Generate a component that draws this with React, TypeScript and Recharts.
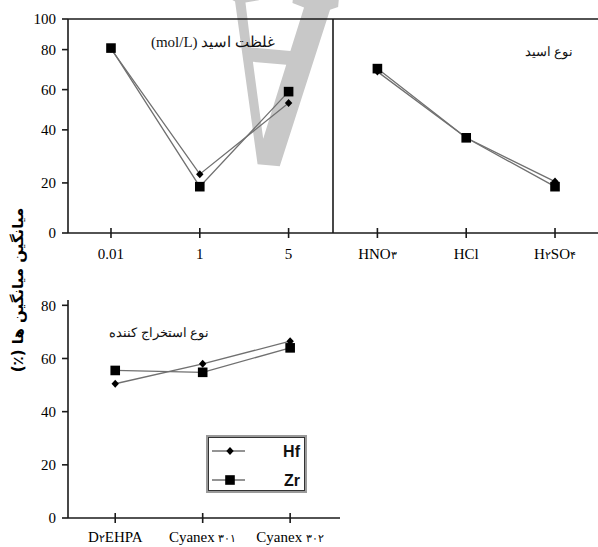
import React from 'react';
import { LineChart, Line, XAxis, YAxis, ReferenceLine, Legend } from 'recharts';

// upper panel: acid concentration (left block) and acid type (right block)
const concLabels = ['0.01', '1', '5'];
const acidLabels = ['HNO۳', 'HCl', 'H۲SO۴'];
const hfConc = [80.5, 23.3, 53.3];
const zrConc = [81, 18.5, 59];
const hfAcid = [69, 37, 20.5];
const zrAcid = [70.5, 37, 18.5];

// lower panel: extractant type
const extractantLabels = ['D۲EHPA', 'Cyanex ۳۰۱', 'Cyanex ۳۰۲'];
const hfExtractant = [50.5, 58, 66.5];
const zrExtractant = [55.5, 54.8, 64];

const topTicks = [0, 20, 40, 60, 80, 100];
// the printed upper axis is not evenly spaced: share of the axis length at each tick
const topTickShare = [0, 0.234, 0.482, 0.67, 0.857, 1];
const bottomTicks = [0, 20, 40, 60, 80];

const series = [
  { key: 'hf', name: 'Hf' },
  { key: 'zr', name: 'Zr' },
];

const SERIF = '"Times New Roman", "Liberation Serif", Times, serif';
const INK = '#1a1a1a';
const LINE = '#707070';

// piecewise-linear scale following the uneven tick spacing, shaped like a d3 scale
function unevenScale(stops: number[], shares: number[]) {
  let domain = [stops[0], stops[stops.length - 1]];
  let range = [0, 1];
  const scale: any = (v: number) => {
    let i = 0;
    while (i < stops.length - 2 && v > stops[i + 1]) i++;
    const t = (v - stops[i]) / (stops[i + 1] - stops[i]);
    const share = shares[i] + t * (shares[i + 1] - shares[i]);
    return range[0] + share * (range[1] - range[0]);
  };
  scale.domain = (d?: number[]) => {
    if (!d) return domain;
    domain = d;
    return scale;
  };
  scale.range = (r?: number[]) => {
    if (!r) return range;
    range = r;
    return scale;
  };
  scale.copy = () => unevenScale(stops, shares).domain(domain).range(range);
  scale.ticks = () => stops;
  return scale;
}

const concRows = concLabels.map((_, i) => ({ x: i, hf: hfConc[i], zr: zrConc[i] }));
const acidRows = acidLabels.map((_, i) => ({ x: i + concLabels.length, hf: hfAcid[i], zr: zrAcid[i] }));
const topLabels = [...concLabels, ...acidLabels];
const extractantRows = extractantLabels.map((_, i) => ({ x: i, hf: hfExtractant[i], zr: zrExtractant[i] }));

function Diamond({ cx, cy }: any) {
  if (cx == null || cy == null) return null;
  return <polygon points={`${cx},${cy - 4} ${cx + 3.7},${cy} ${cx},${cy + 4} ${cx - 3.7},${cy}`} fill="#000" />;
}

function Square({ cx, cy }: any) {
  if (cx == null || cy == null) return null;
  return <rect x={cx - 4.8} y={cy - 4.8} width={9.6} height={9.6} fill="#000" />;
}

const markers: Record<string, (p: any) => React.ReactElement | null> = { hf: Diamond, zr: Square };

// persian digits come from a fallback font that runs large, so set them a bit smaller
function labelRuns(label: string) {
  return label.split(/([\u06F0-\u06F9]+)/).filter(Boolean).map((part, i) =>
    /[\u06F0-\u06F9]/.test(part) ? (
      <tspan key={i} fontSize={11}>
        {part}
      </tspan>
    ) : (
      <tspan key={i}>{part}</tspan>
    ),
  );
}

// tick mark crossing the axis, label underneath
function CrossTick({ x, y, payload, labels, labelDy }: any) {
  const axisY = y - 5;
  return (
    <g>
      <line x1={x} x2={x} y1={axisY - 5} y2={axisY + 5} stroke={INK} strokeWidth={1.6} />
      <text x={x} y={axisY + labelDy} textAnchor="middle" fontFamily={SERIF} fontSize={15} fill="#000">
        {labelRuns(labels[payload.value])}
      </text>
    </g>
  );
}

function LegendBox() {
  return (
    <div
      style={{
        width: 97,
        height: 54,
        border: '2px solid #9a9a9a',
        boxShadow: 'inset 0 0 0 1px #333',
        background: '#fff',
      }}
    >
      <svg width={97} height={54}>
        {series.map((s, i) => {
          const cy = 14 + i * 29;
          const Marker = markers[s.key];
          return (
            <g key={s.key}>
              <line x1={4} x2={37} y1={cy} y2={cy} stroke={LINE} strokeWidth={1.3} />
              <Marker cx={22} cy={cy} />
              <text
                x={92}
                y={cy + 5.5}
                textAnchor="end"
                fontFamily='"Liberation Sans", Arial, sans-serif'
                fontWeight="bold"
                fontSize={16}
                fill="#111"
              >
                {s.name}
              </text>
            </g>
          );
        })}
      </svg>
    </div>
  );
}

function Note({ x, y, text, size = 14 }: { x: number; y: number; text: string; size?: number }) {
  return (
    <div
      dir="rtl"
      style={{
        position: 'absolute',
        left: x,
        top: y,
        transform: 'translate(-50%, -50%)',
        whiteSpace: 'nowrap',
        fontFamily: SERIF,
        fontSize: size,
        color: '#111',
        lineHeight: 1,
      }}
    >
      {text}
    </div>
  );
}

const axisLine = { stroke: INK, strokeWidth: 1.6 };
const yTick = { fill: '#000', fontSize: 15, fontFamily: SERIF };

export default function App() {
  return (
    <div style={{ position: 'absolute', left: 0, top: 0, width: 598, height: 547, background: '#fff', overflow: 'hidden' }}>
      {/* faint watermark behind the plots */}
      <svg width={598} height={547} style={{ position: 'absolute', left: 0, top: 0 }}>
        <text
          transform="translate(227,-12) rotate(5) scale(0.6,-1)"
          fontFamily='"Liberation Serif", serif'
          fontWeight="bold"
          fontSize={262}
          fill="#c8c8c8"
        >
          A
        </text>
      </svg>

      <div style={{ position: 'absolute', left: 0, top: 0 }}>
        <LineChart width={598} height={275} margin={{ top: 19, right: 0, bottom: 12, left: 0 }}>
          <XAxis
            type="number"
            dataKey="x"
            domain={[-0.484, 5.484]}
            ticks={[0, 1, 2, 3, 4, 5]}
            height={30}
            axisLine={axisLine}
            tickLine={false}
            tickSize={5}
            tickMargin={0}
            tick={(p: any) => <CrossTick {...p} labels={topLabels} labelDy={26} />}
          />
          <YAxis
            type="number"
            domain={[0, 100]}
            ticks={topTicks}
            scale={unevenScale(topTicks, topTickShare)}
            width={68}
            axisLine={axisLine}
            tickLine={axisLine}
            tickSize={6}
            tickMargin={6}
            tick={yTick}
            interval={0}
          />
          <ReferenceLine y={100} stroke={INK} strokeWidth={1.6} />
          <ReferenceLine x={2.5} stroke={INK} strokeWidth={1.6} />
          {series.map((s) => (
            <Line
              key={`c-${s.key}`}
              data={concRows}
              dataKey={s.key}
              name={s.name}
              type="linear"
              stroke={LINE}
              strokeWidth={1.3}
              dot={markers[s.key]}
              activeDot={false}
              isAnimationActive={false}
            />
          ))}
          {series.map((s) => (
            <Line
              key={`a-${s.key}`}
              data={acidRows}
              dataKey={s.key}
              name={s.name}
              type="linear"
              stroke={LINE}
              strokeWidth={1.3}
              dot={markers[s.key]}
              activeDot={false}
              isAnimationActive={false}
            />
          ))}
        </LineChart>
      </div>

      <div style={{ position: 'absolute', left: 0, top: 280 }}>
        <LineChart width={340} height={267} data={extractantRows} margin={{ top: 20, right: 0, bottom: 0, left: 0 }}>
          <XAxis
            type="number"
            dataKey="x"
            domain={[-0.54, 2.57]}
            ticks={[0, 1, 2]}
            height={29}
            axisLine={axisLine}
            tickLine={false}
            tickSize={5}
            tickMargin={0}
            tick={(p: any) => <CrossTick {...p} labels={extractantLabels} labelDy={24} />}
          />
          <YAxis
            type="number"
            domain={[0, 82]}
            ticks={bottomTicks}
            width={68}
            axisLine={axisLine}
            tickLine={axisLine}
            tickSize={6}
            tickMargin={6}
            tick={yTick}
            interval={0}
          />
          <Legend
            layout="vertical"
            align="center"
            verticalAlign="middle"
            content={() => <LegendBox />}
            wrapperStyle={{ left: 206, top: 155, width: 101, height: 58 }}
          />
          {series.map((s) => (
            <Line
              key={s.key}
              dataKey={s.key}
              name={s.name}
              type="linear"
              stroke={LINE}
              strokeWidth={1.3}
              dot={markers[s.key]}
              activeDot={false}
              isAnimationActive={false}
            />
          ))}
        </LineChart>
      </div>

      <Note x={213} y={42} text="غلظت اسید (mol/L)" size={15} />
      <Note x={549} y={51} text="نوع اسید" size={13} />
      <Note x={159} y={332} text="نوع استخراج کننده" size={13} />

      <div
        dir="rtl"
        style={{
          position: 'absolute',
          left: 18,
          top: 290,
          transform: 'translate(-50%, -50%) rotate(-90deg)',
          whiteSpace: 'nowrap',
          fontFamily: '"DejaVu Sans", sans-serif',
          fontWeight: 'bold',
          fontSize: 15,
          color: '#000',
          lineHeight: 1,
        }}
      >
        میانگین میانگین ها (٪)
      </div>
    </div>
  );
}
